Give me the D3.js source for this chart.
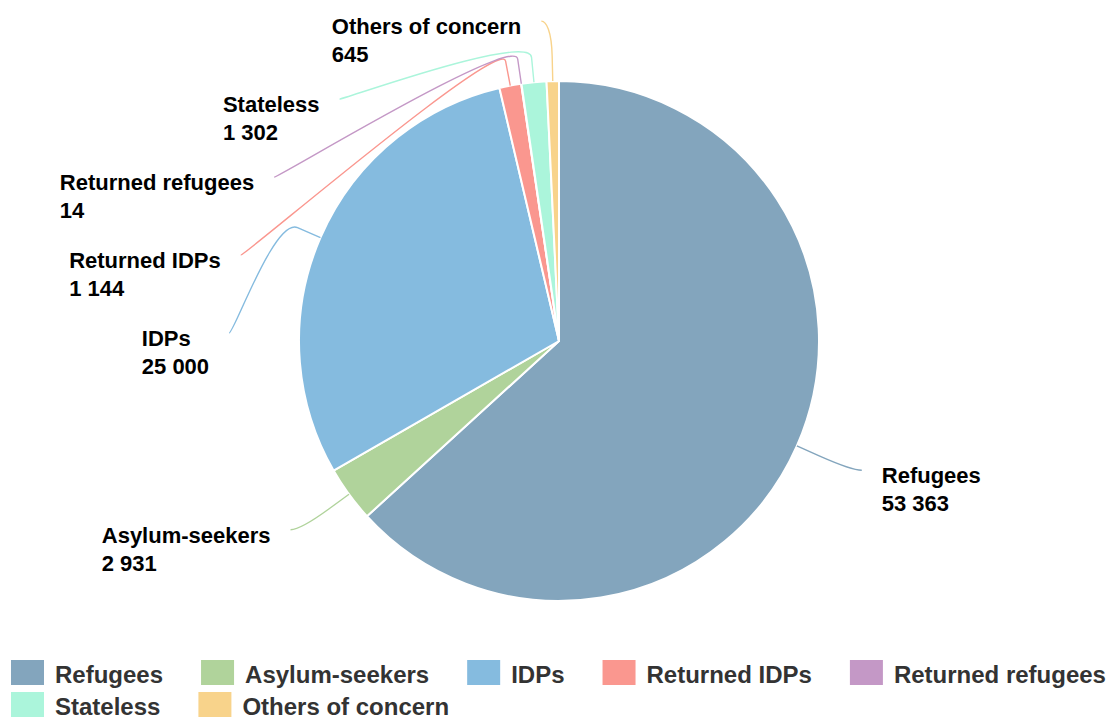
<!DOCTYPE html>
<html>
<head>
<meta charset="utf-8">
<script src="https://cdn.jsdelivr.net/npm/d3@7"></script>
<style>
  html, body { margin: 0; padding: 0; background: #ffffff; }
  svg { display: block; font-family: "Liberation Sans", Arial, Helvetica, sans-serif; }
</style>
</head>
<body>
<svg id="chart" width="1111" height="719"></svg>
<script>
// ---- data ----
const categories = ["Refugees", "Asylum-seekers", "IDPs", "Returned IDPs", "Returned refugees", "Stateless", "Others of concern"];
const values = [53363, 2931, 25000, 1144, 14, 1302, 645];
const colors = ["#83a5bd", "#b0d39b", "#85bbdf", "#fa978f", "#c498c6", "#abf5db", "#f8d38b"];

// ---- layout ----
const W = 1111, H = 719;
const cx = 559, cy = 341, r = 260;
const labelDist = 60;      // label distance outside the pie
const labelPad = 10;       // extra horizontal padding of label anchor
const breakOffset = 25;    // connector break distance outside the pie
const labelStep = 78;      // min vertical distance between labels
const labelTop = 21;       // topmost label anchor
const textGap = 20;        // gap between connector start and label text

const svg = d3.select("#chart");
const fmt = v => d3.format(",")(v).replace(/,/g, " ");

const data = categories.map((c, i) => ({ name: c, value: values[i], color: colors[i] }));
const pie = d3.pie().sort(null).value(d => d.value).startAngle(0).endAngle(2 * Math.PI);
const arcs = pie(data);
const arc = d3.arc().innerRadius(0).outerRadius(r);

const g = svg.append("g").attr("transform", `translate(${cx},${cy})`);
g.selectAll("path.slice").data(arcs).join("path")
  .attr("class", "slice")
  .attr("d", arc)
  .attr("fill", d => d.data.color)
  .attr("stroke", "#ffffff")
  .attr("stroke-width", 2)
  .attr("stroke-linejoin", "round");

// ---- label positions ----
const pt = (a, R) => [cx + R * Math.sin(a), cy - R * Math.cos(a)];
const Rd = r + labelDist;
arcs.forEach(d => {
  d.mid = (d.startAngle + d.endAngle) / 2;
  d.left = d.mid > Math.PI;
  d.natY = cy - Rd * Math.cos(d.mid);
  d.touch = pt(d.mid, r);
  d.brk = pt(d.mid, r + breakOffset);
});
["left", "right"].forEach(side => {
  const items = arcs.filter(d => (side === "left") === d.left).sort((a, b) => a.natY - b.natY);
  let prev = -Infinity;
  items.forEach(d => {
    d.y = Math.max(d.natY, prev + labelStep, labelTop);
    prev = d.y;
  });
});
arcs.forEach(d => {
  const s = Math.max(-1, Math.min(1, (d.y - cy) / Rd));
  const ang = Math.asin(s);
  d.x = cx + (d.left ? -1 : 1) * (Math.cos(ang) * Rd + labelPad);
});

// connectors
svg.append("g").selectAll("path").data(arcs).join("path")
  .attr("fill", "none")
  .attr("stroke", d => d.data.color)
  .attr("stroke-width", 1.4)
  .attr("d", d => {
    const c1x = d.x + (d.left ? 5 : -5);
    const c2x = 2 * d.brk[0] - d.touch[0], c2y = 2 * d.brk[1] - d.touch[1];
    return `M${d.x},${d.y} C${c1x},${d.y} ${c2x},${c2y} ${d.brk[0]},${d.brk[1]} L${d.touch[0]},${d.touch[1]}`;
  });

// labels
const lg = svg.append("g");
arcs.forEach(d => {
  const t = lg.append("text")
    .attr("font-size", 22)
    .attr("font-weight", "bold")
    .attr("fill", "#000")
    .attr("stroke", "#fff")
    .attr("stroke-width", 2)
    .attr("stroke-linejoin", "round")
    .attr("paint-order", "stroke");
  const l1 = t.append("tspan").text(d.data.name);
  const l2 = t.append("tspan").text(fmt(d.data.value));
  const w = Math.max(l1.node().getComputedTextLength(), l2.node().getComputedTextLength());
  const x0 = d.left ? d.x - textGap - w : d.x + textGap;
  l1.attr("x", x0).attr("y", d.y + 13);
  l2.attr("x", x0).attr("y", d.y + 41);
});

// ---- legend ----
const legend = svg.append("g");
const legStartX = 11, legRowY = [660, 692], legMaxX = W + 2;
const sqW = 33, sqH = 25, txtOff = 44, itemGap = 38;
let lx = legStartX, row = 0;
data.forEach(d => {
  const item = legend.append("g");
  const t = item.append("text")
    .attr("font-size", 24)
    .attr("font-weight", "bold")
    .attr("fill", "#333333")
    .text(d.name);
  const tw = t.node().getComputedTextLength();
  if (lx > legStartX && lx + txtOff + tw > legMaxX) { row += 1; lx = legStartX; }
  const y = legRowY[row];
  item.append("rect").attr("x", lx).attr("y", y).attr("width", sqW).attr("height", sqH).attr("fill", d.color);
  t.attr("x", lx + txtOff).attr("y", y + 23);
  lx += txtOff + tw + itemGap;
});
</script>
</body>
</html>
